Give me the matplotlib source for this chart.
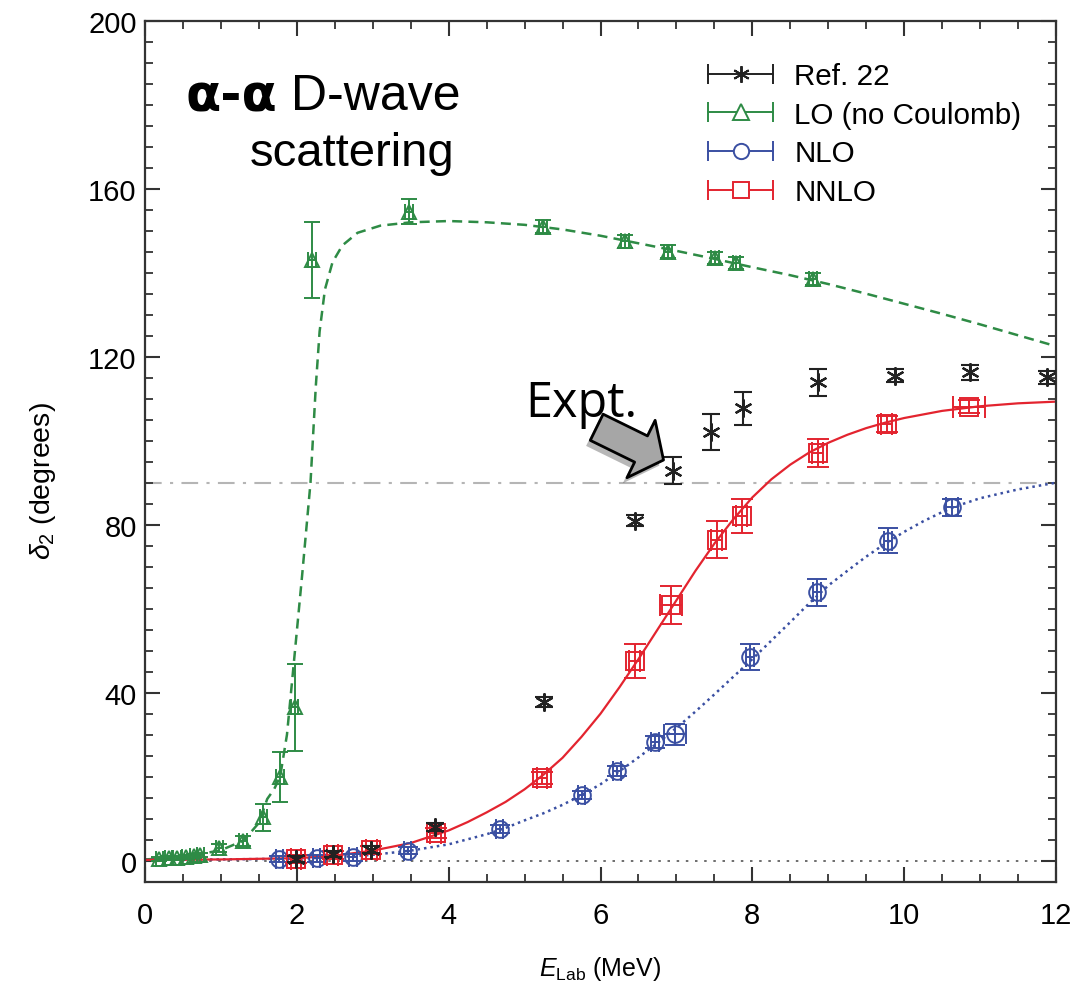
import matplotlib
matplotlib.use("Agg")
import matplotlib.pyplot as plt
from matplotlib.lines import Line2D
from matplotlib.legend_handler import HandlerBase
from matplotlib.ticker import MultipleLocator
import matplotlib.patheffects as pe

plt.rcParams['font.family'] = ['Liberation Sans', 'DejaVu Sans']
plt.rcParams['mathtext.fontset'] = 'custom'
plt.rcParams['mathtext.rm'] = 'Liberation Sans'
plt.rcParams['mathtext.it'] = 'Liberation Sans:italic'

# ---------------- data ----------------
# Ref. 22 (experiment)
ref_x = [1.99, 2.47, 2.98, 3.82, 5.26, 6.45, 6.95, 7.46, 7.88, 8.87, 9.88, 10.87, 11.88]
ref_y = [0.4, 1.6, 2.6, 8.0, 37.7, 81.0, 92.9, 102.1, 107.7, 113.9, 115.5, 116.3, 115.1]
ref_yerr = [0.8, 0.8, 0.8, 1.0, 1.2, 1.2, 3.2, 4.2, 4.0, 3.2, 1.5, 1.8, 1.5]

# LO (no Coulomb)
lo_x = [0.19, 0.31, 0.42, 0.54, 0.64, 0.73, 0.98, 1.29, 1.56, 1.78, 1.97, 2.20, 3.48,
        5.24, 6.32, 6.89, 7.51, 7.79, 8.80]
lo_y = [0.5, 0.6, 0.7, 0.9, 1.1, 1.3, 3.0, 4.6, 10.3, 19.9, 36.5, 143.0, 154.5,
        151.0, 147.5, 145.0, 143.5, 142.3, 138.5]
lo_yerr = [0.5, 0.5, 0.5, 0.5, 0.5, 0.5, 1.0, 1.2, 3.2, 6.0, 10.4, 9.0, 3.0,
           1.5, 1.5, 1.5, 1.5, 1.5, 1.5]
lo_xerr = [0.05] * 19

# NLO
nlo_x = [1.77, 2.26, 2.74, 3.46, 4.67, 5.75, 6.22, 6.72, 6.98, 7.97, 8.85, 9.79, 10.63]
nlo_y = [0.4, 0.6, 0.8, 2.4, 7.5, 15.7, 21.3, 28.3, 30.1, 48.5, 63.9, 76.2, 84.1]
nlo_yerr = [0.8, 0.8, 0.8, 0.8, 1.0, 1.0, 1.2, 1.5, 2.5, 3.2, 3.2, 3.0, 2.0]
nlo_xerr = [0.05, 0.05, 0.05, 0.05, 0.05, 0.05, 0.05, 0.05, 0.15, 0.05, 0.05, 0.05, 0.08]

# NNLO
nnlo_x = [1.99, 2.47, 2.98, 3.83, 5.23, 6.45, 6.93, 7.53, 7.86, 8.86, 9.77, 10.85]
nnlo_y = [0.4, 1.3, 2.6, 6.6, 19.7, 47.5, 60.8, 76.4, 82.1, 97.1, 104.0, 108.1]
nnlo_yerr = [1.0, 1.0, 1.0, 1.2, 1.5, 4.0, 4.5, 4.4, 4.0, 3.3, 2.0, 1.5]
nnlo_xerr = [0.07, 0.07, 0.07, 0.07, 0.07, 0.07, 0.15, 0.07, 0.07, 0.07, 0.07, 0.21]

# fitted curves
lo_curve_x = [0, 0.5, 1.0, 1.3, 1.5, 1.61, 1.7, 1.78, 1.87, 1.96, 2.07, 2.18, 2.25,
              2.30, 2.37, 2.47, 2.6, 2.8, 3.1, 3.5, 4.0, 4.5, 5.0, 5.5, 6.0, 6.5,
              7.0, 7.5, 8.0, 8.5, 9.0, 9.5, 10.0, 10.5, 11.0, 11.5, 12.0]
lo_curve_y = [0.3, 0.8, 2.5, 4.8, 9.0, 14.7, 17.0, 20.0, 30.0, 47.0, 68.0, 90.0, 113.0,
              126.0, 136.0, 142.5, 146.5, 149.5, 151.2, 152.0, 152.3, 152.0, 151.4,
              150.3, 148.8, 147.0, 145.2, 143.3, 141.3, 139.4, 137.3, 135.0, 132.6,
              130.2, 127.7, 125.1, 122.5]
nnlo_curve_x = [0, 1, 2, 2.5, 3, 3.5, 4, 4.25, 4.5, 4.75, 5, 5.25, 5.5, 5.75, 6,
                6.25, 6.5, 6.75, 7, 7.25, 7.5, 7.75, 8, 8.25, 8.5, 8.75, 9, 9.25,
                9.5, 9.75, 10, 10.5, 11, 11.5, 12]
nnlo_curve_y = [0.2, 0.3, 0.6, 1.2, 2.4, 4.2, 7.2, 9.2, 11.5, 14.0, 17.0, 20.5, 24.5,
                29.5, 35.0, 41.3, 48.0, 55.0, 62.0, 69.0, 75.5, 81.3, 86.5, 90.8,
                94.3, 97.2, 99.5, 101.4, 103.0, 104.3, 105.4, 107.1, 108.2, 108.9,
                109.3]
nlo_curve_x = [0, 1, 2, 2.5, 3, 3.5, 4, 4.5, 4.75, 5, 5.25, 5.5, 5.75, 6, 6.25,
               6.5, 6.75, 7, 7.25, 7.5, 7.75, 8, 8.25, 8.5, 8.75, 9, 9.25, 9.5,
               9.75, 10, 10.25, 10.5, 10.75, 11, 11.5, 12]
nlo_curve_y = [0.2, 0.3, 0.5, 0.8, 1.4, 2.4, 3.9, 6.3, 7.8, 9.6, 11.3, 13.3, 15.6,
               18.2, 21.3, 24.6, 28.0, 31.6, 35.5, 39.6, 43.8, 48.0, 52.4, 56.8,
               61.3, 65.5, 69.0, 72.4, 75.5, 78.3, 80.8, 83.0, 84.8, 86.3, 88.4, 90.0]

labels = ["Ref. 22", "LO (no Coulomb)", "NLO", "NNLO"]

c_black = '#222222'
c_green = '#2e8b45'
c_blue = '#3a4fa2'
c_red = '#e3242f'

# ---------------- figure ----------------
fig = plt.figure(figsize=(10.89, 9.87), dpi=100)
ax = fig.add_axes([145 / 1089, 1 - 882.7 / 987, (1056 - 145) / 1089, (882.7 - 21.7) / 987])

ax.axhline(90, color='#b5b5b5', lw=1.5, ls=(0, (8, 4, 1.5, 4)), zorder=1)
ax.axhline(0, color='#555555', lw=1.2, ls=(0, (1.5, 4)), zorder=1)

ax.plot(lo_curve_x, lo_curve_y, color=c_green, lw=1.8, ls=(0, (4, 2.5)), zorder=2)
ax.plot(nlo_curve_x, nlo_curve_y, color=c_blue, lw=1.8, ls=(0, (1, 1.6)), zorder=2)
ax.plot(nnlo_curve_x, nnlo_curve_y, color=c_red, lw=1.6, ls='-', zorder=2)


def eb(x, y, yerr, xerr, color, marker, ms, cap):
    ax.errorbar(x, y, yerr=yerr, xerr=xerr, fmt=marker, color=color, mfc='none',
                mec=color, ms=ms, mew=1.4, elinewidth=1.4, capsize=cap, capthick=1.4,
                zorder=3)


eb(lo_x, lo_y, lo_yerr, lo_xerr, c_green, '^', 10, 6)
eb(nlo_x, nlo_y, nlo_yerr, nlo_xerr, c_blue, 'o', 12, 7)
eb(nnlo_x, nnlo_y, nnlo_yerr, nnlo_xerr, c_red, 's', 13, 8)
ax.errorbar(ref_x, ref_y, yerr=ref_yerr, fmt='none', ecolor=c_black, elinewidth=1.5,
            capsize=6.5, capthick=1.5, zorder=4)
ax.plot(ref_x, ref_y, ls='none', marker=(6, 2, 0), ms=13, mew=1.6, color=c_black, zorder=4)

ax.set_xlim(0, 12)
ax.set_ylim(-5, 200)
ax.xaxis.set_major_locator(MultipleLocator(2))
ax.xaxis.set_minor_locator(MultipleLocator(0.5))
ax.yaxis.set_major_locator(MultipleLocator(40))
ax.yaxis.set_minor_locator(MultipleLocator(5))
ax.tick_params(which='both', direction='in', top=True, right=True, color='#333333')
ax.tick_params(which='major', length=11, width=1.5)
ax.tick_params(which='minor', length=6, width=1.3)
ax.tick_params(axis='x', which='major', labelsize=21, pad=14)
ax.tick_params(axis='y', which='major', labelsize=21, pad=6)
for s in ax.spines.values():
    s.set_linewidth(1.6)
    s.set_color('#333333')

ax.set_xlabel(r'$E_{\rm Lab}$ (MeV)', fontsize=18, labelpad=18)
ax.set_ylabel(r'$\delta_2$ (degrees)', fontsize=20.5)
ax.yaxis.set_label_coords(-0.096, 0.466)

# title text
t1 = ax.text(0.044, 0.912, 'α-α', transform=ax.transAxes, fontsize=37, fontweight='bold',
             ha='left', va='center', family=['DejaVu Sans'])
ax.annotate(' D-wave', xy=(1.0, 0.5), xycoords=t1, fontsize=36, ha='left', va='center')
ax.text(0.227, 0.846, 'scattering', transform=ax.transAxes, fontsize=34,
        ha='center', va='center')

# Expt. annotation
ax.text(5.75, 108.8, 'Expt.', fontsize=35, ha='center', va='center',
        family=['Open Sans', 'DejaVu Sans'])
ax.annotate('', xy=(6.83, 95.4), xytext=(5.95, 103.2),
            arrowprops=dict(arrowstyle='simple,head_length=0.9,head_width=2.3,tail_width=1.05',
                            fc='#a6a6a6', ec='black', lw=2, mutation_scale=20,
                            shrinkA=0, shrinkB=0,
                            path_effects=[pe.SimplePatchShadow(offset=(-3, -4), alpha=0.35),
                                          pe.Normal()]),
            zorder=5)


# legend with horizontal-line-with-caps handles
class HandlerCapLine(HandlerBase):
    def create_artists(self, legend, orig_handle, xdescent, ydescent, width, height,
                       fontsize, trans):
        color = orig_handle.get_color()
        marker = orig_handle.get_marker()
        y = height / 2 - ydescent
        x0, x1 = -xdescent, width - xdescent
        line = Line2D([x0, x1], [y, y], color=color, lw=1.4)
        caps = Line2D([x0, x1], [y, y], ls='none', marker='|', ms=14, mew=1.4, color=color)
        mk = Line2D([(x0 + x1) / 2], [y], ls='none', marker=marker, ms=orig_handle.get_markersize(),
                    mfc='white', mec=color, mew=1.4)
        arts = [line, caps, mk]
        for a in arts:
            a.set_transform(trans)
        return arts


proxies = [
    Line2D([], [], color=c_black, marker=(6, 2, 0), ms=12),
    Line2D([], [], color=c_green, marker='^', ms=11),
    Line2D([], [], color=c_blue, marker='o', ms=11),
    Line2D([], [], color=c_red, marker='s', ms=11),
]
ax.legend(proxies, labels, handler_map={Line2D: HandlerCapLine()}, loc='upper left',
          bbox_to_anchor=(0.618, 0.952), frameon=False, fontsize=21.3, handlelength=2.2,
          handletextpad=0.72, labelspacing=0.36, borderpad=0, borderaxespad=0)

fig.savefig('out.png', dpi=100)
